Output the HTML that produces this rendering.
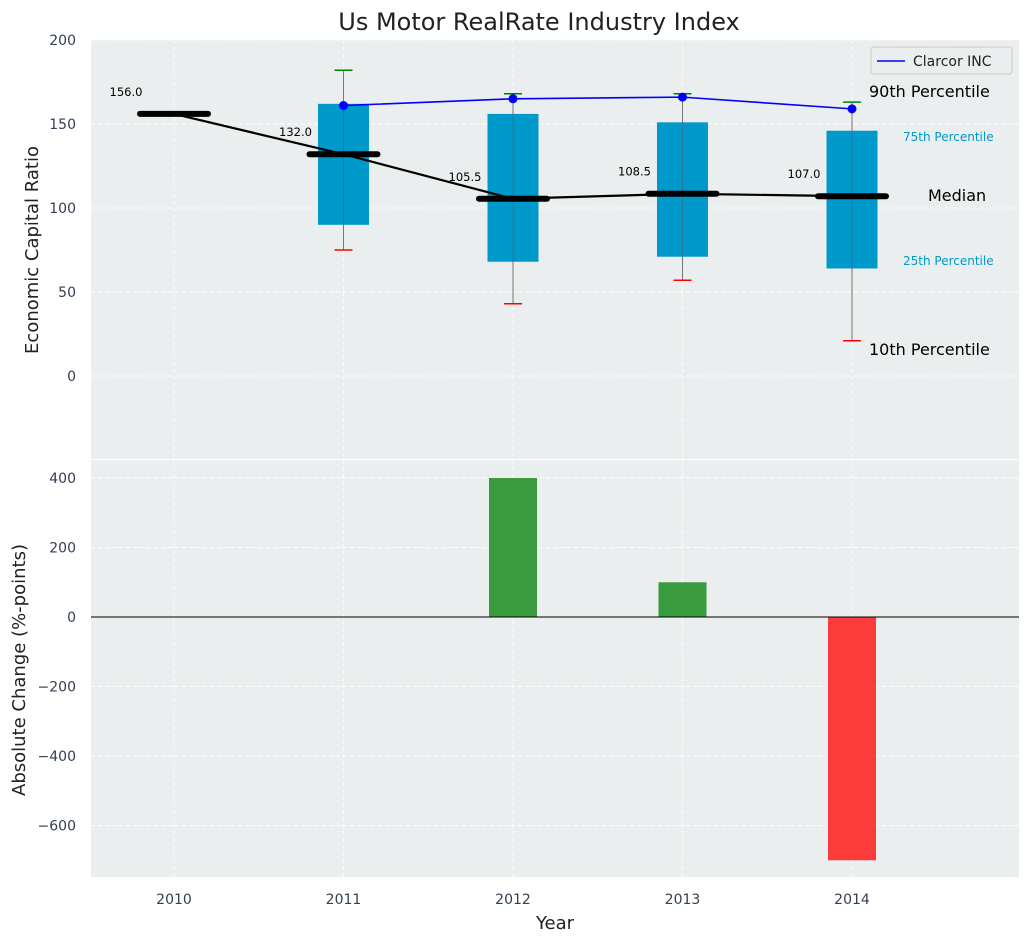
<!DOCTYPE html>
<html><head><meta charset="utf-8"><style>
body{margin:0;background:#fff;font-family:"Liberation Sans","DejaVu Sans",sans-serif;}
svg text{font-family:"DejaVu Sans","Liberation Sans",sans-serif;}
</style></head><body>
<svg id="c" width="1029" height="942" xmlns="http://www.w3.org/2000/svg"></svg>
<script>
const years=[2010,2011,2012,2013,2014];
const medians=[156,132,105.5,108.5,107];
const p25=[null,90,68,71,64];
const p75=[null,162,156,151,146];
const p10=[null,75,43,57,21];
const p90=[null,182,168,168,163];
const clarcor=[null,161,165,166,159];
const changes=[0,0,400,100,-700];
const topTicks=[0,50,100,150,200];
const botTicks=[-600,-400,-200,0,200,400];

const svg=document.getElementById('c');
const NS='http://www.w3.org/2000/svg';
function el(t,a,p){const e=document.createElementNS(NS,t);for(const k in a)e.setAttribute(k,a[k]);(p||svg).appendChild(e);return e;}
const L=91,R=1019;
const x=v=>174+(v-2010)*169.5;
const yT=v=>376-v*1.68;
const yB=v=>617-v*0.3475;

// backgrounds
let r=el('rect',{x:L,y:40,width:R-L,height:419,fill:'#eaeeee'});

r=el('rect',{x:L,y:460,width:R-L,height:417,fill:'#eaeeee'});


const grid={stroke:'#fff','stroke-dasharray':'4,3','stroke-width':1,opacity:0.9};
years.forEach(yr=>{
  el('line',Object.assign({x1:x(yr),x2:x(yr),y1:40,y2:459},grid));
  el('line',Object.assign({x1:x(yr),x2:x(yr),y1:460,y2:877},grid));
  const t=el('text',{x:x(yr),y:904,'text-anchor':'middle','font-size':14,fill:'#333f50'});t.textContent=yr;
  
});
topTicks.forEach(v=>{
  el('line',Object.assign({x1:L,x2:R,y1:yT(v),y2:yT(v)},grid));
  const t=el('text',{x:76,y:yT(v)+5,'text-anchor':'end','font-size':14,fill:'#333f50'});t.textContent=v;
  
});
botTicks.forEach(v=>{
  el('line',Object.assign({x1:L,x2:R,y1:yB(v),y2:yB(v)},grid));
  const t=el('text',{x:76,y:yB(v)+5,'text-anchor':'end','font-size':14,fill:'#333f50'});t.textContent=v<0?'\u2212'+(-v):v;
  
});

// boxes
years.forEach((yr,i)=>{
  if(p25[i]==null)return;
  const cx=x(yr);
  el('line',{x1:cx,x2:cx,y1:yT(p90[i]),y2:yT(p10[i]),stroke:'#777','stroke-width':1});
  const b=el('rect',{x:cx-25.5,y:yT(p75[i]),width:51,height:yT(p25[i])-yT(p75[i]),fill:'#0099cc'});
  
  el('line',{x1:cx,x2:cx,y1:yT(p75[i]),y2:yT(p25[i]),stroke:'#555','stroke-width':0.8,opacity:0.6});
  el('line',{x1:cx-9,x2:cx+9,y1:yT(p90[i]),y2:yT(p90[i]),stroke:'green','stroke-width':1.5});
  el('line',{x1:cx-9,x2:cx+9,y1:yT(p10[i]),y2:yT(p10[i]),stroke:'red','stroke-width':1.5});
});
// median line
let pts=years.map((yr,i)=>x(yr)+','+yT(medians[i])).join(' ');
let pl=el('polyline',{points:pts,fill:'none',stroke:'#000','stroke-width':2.2});

years.forEach((yr,i)=>{
  const cx=x(yr);
  el('line',{x1:cx-34,x2:cx+34,y1:yT(medians[i]),y2:yT(medians[i]),stroke:'#000','stroke-width':6,'stroke-linecap':'round'});
  const t=el('text',{x:cx-48,y:yT(medians[i])-18,'text-anchor':'middle','font-size':11.5,fill:'#000'});t.textContent=medians[i].toFixed(1);
  
});
// clarcor
const cp=[];years.forEach((yr,i)=>{if(clarcor[i]!=null)cp.push([x(yr),yT(clarcor[i])]);});
pl=el('polyline',{points:cp.map(p=>p.join(',')).join(' '),fill:'none',stroke:'blue','stroke-width':1.6});

cp.forEach(p=>{const c=el('circle',{cx:p[0],cy:p[1],r:4.5,fill:'blue'});});

// annotations
const ann=[['90th Percentile',869,97,16,'#000'],['75th Percentile',903,141,12,'#0099cc'],['Median',928,201,16,'#000'],['25th Percentile',903,265,12,'#0099cc'],['10th Percentile',869,355,16,'#000']];
ann.forEach(a=>{const t=el('text',{x:a[1],y:a[2],'font-size':a[3],fill:a[4]});t.textContent=a[0];});

// legend
const lg=el('g',{});
el('rect',{x:871,y:47,width:141,height:27,fill:'#eaeeee',stroke:'#ccc',rx:3},lg);
el('line',{x1:877,x2:905,y1:61,y2:61,stroke:'blue','stroke-width':1.6},lg);
let t=el('text',{x:913,y:66,'font-size':14,fill:'#222'},lg);t.textContent='Clarcor INC';

// bars
years.forEach((yr,i)=>{
  if(!changes[i])return;
  const y0=yB(0),y1=yB(changes[i]);
  const b=el('rect',{x:x(yr)-24,y:Math.min(y0,y1),width:48,height:Math.abs(y1-y0),fill:changes[i]>0?'#3a9b3e':'#fc3b3b'});
  
});
el('line',{x1:L,x2:R,y1:yB(0),y2:yB(0),stroke:'#000','stroke-width':1});

// titles
t=el('text',{x:539,y:30,'text-anchor':'middle','font-size':24,fill:'#222'});t.textContent='Us Motor RealRate Industry Index';

t=el('text',{x:555,y:929,'text-anchor':'middle','font-size':18,fill:'#222'});t.textContent='Year';

t=el('text',{x:0,y:0,'text-anchor':'middle','font-size':18,fill:'#222',transform:'translate(38,250) rotate(-90)'});t.textContent='Economic Capital Ratio';

t=el('text',{x:0,y:0,'text-anchor':'middle','font-size':18,fill:'#222',transform:'translate(25,670) rotate(-90)'});t.textContent='Absolute Change (%-points)';

</script>
</body></html>
